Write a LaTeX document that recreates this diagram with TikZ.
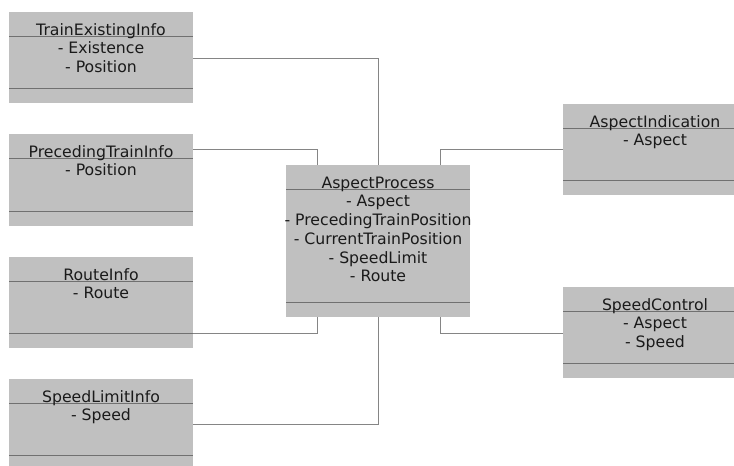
\documentclass[tikz,border=0pt]{standalone}
\usepackage{fontspec}
\setmainfont{DejaVu Sans}
\usetikzlibrary{calc}

\definecolor{boxfill}{HTML}{C0C0C0}
\definecolor{rulegray}{HTML}{707070}
\definecolor{linkgray}{HTML}{858585}
\definecolor{inkgray}{HTML}{1A1A1A}

\tikzset{
  classbox/.style={fill=boxfill, draw=none, inner sep=0pt, outer sep=0pt,
                   minimum width=184pt},
  divider/.style={draw=rulegray, line width=0.9pt},
  classtext/.style={inner sep=0pt, text=inkgray,
                    font=\fontsize{15.7pt}{19pt}\selectfont},
  link/.style={draw=linkgray, line width=0.9pt},
}

% A class box: name, left, top, height, title, attribute lines
\newcommand{\umlclass}[6]{%
  \node[classbox, minimum height=#4pt, anchor=north west] (#1) at (#2,#3) {};
  \draw[divider] ([yshift=-24pt]#1.north west) -- ([yshift=-24pt]#1.north east);
  \draw[divider] ([yshift=15pt]#1.south west) -- ([yshift=15pt]#1.south east);
  \node[classtext, anchor=base] (#1-title) at ([yshift=-23.5pt]#1.north) {#5};
  \foreach \attr [count=\k] in {#6} {
    \node[classtext, anchor=base] (#1-\k) at ([yshift={-23.5pt-17.8pt-18.9pt*(\k-1)}]#1.north) {\attr};
  }%
}

\begin{document}
\begin{tikzpicture}[x=1pt, y=-1pt]
  \useasboundingbox[fill=white] (0,0) rectangle (734,466);
  \clip (0,0) rectangle (734,466);

  \umlclass{tei}{9}{12}{91}{TrainExistingInfo}{- Existence, - Position}
  \umlclass{pti}{9}{134}{92}{PrecedingTrainInfo}{- Position}
  \umlclass{ri}{9}{257}{91}{RouteInfo}{- Route}
  \umlclass{sli}{9}{379}{91}{SpeedLimitInfo}{- Speed}
  \umlclass{ap}{286}{165}{152}{AspectProcess}{- Aspect, - PrecedingTrainPosition, - CurrentTrainPosition, - SpeedLimit, - Route}
  \umlclass{ai}{563}{104}{91}{AspectIndication}{- Aspect}
  \umlclass{sc}{563}{287}{91}{SpeedControl}{- Aspect, - Speed}

  % connectors into the process box
  \draw[link] ([yshift=-46pt]tei.north east) -| (ap.north);
  \draw[link] ([yshift=-15pt]pti.north east) -| ([xshift=31pt]ap.north west);
  \draw[link] ([yshift=15pt]ri.south east) -| ([xshift=31pt]ap.south west);
  \draw[link] ([yshift=-45pt]sli.north east) -| (ap.south);
  \draw[link] ([yshift=-45pt]ai.north west) -| ([xshift=-30pt]ap.north east);
  \draw[link] ([yshift=-46pt]sc.north west) -| ([xshift=-30pt]ap.south east);
\end{tikzpicture}
\end{document}
